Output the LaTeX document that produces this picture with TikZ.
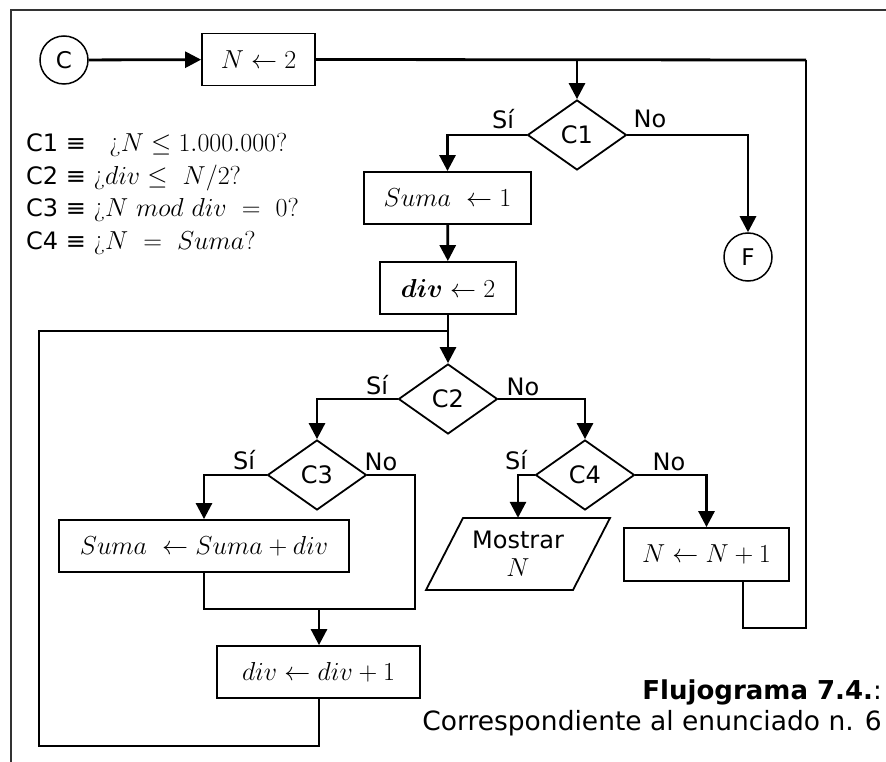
\RequirePackage{fix-cm}
\documentclass[tikz,border=0pt]{standalone}
\usepackage{fontspec}
\usepackage{bm}
\usetikzlibrary{shapes.geometric,arrows.meta}
\newfontfamily\dv{DejaVu Sans}
\tikzset{
  every node/.style={font=\fontsize{26}{30}\selectfont},
  proc/.style={draw, line width=1.8pt, inner sep=0pt},
  dec/.style={draw, line width=1.8pt, diamond, inner sep=0pt, minimum width=99pt, minimum height=70pt, font=\dv\fontsize{24}{28}\selectfont},
  term/.style={draw, line width=1.5pt, circle, minimum size=48pt, inner sep=0pt, font=\dv\fontsize{23}{27}\selectfont},
  para/.style={line width=1.8pt},
  lbl/.style={font=\dv\fontsize{24}{28}\selectfont, inner sep=0pt},
  cond/.style={anchor=west, inner sep=0pt, font=\fontsize{26}{30}\selectfont},
  conn/.style={line width=2.8pt},
  arr/.style={conn, -{Triangle[length=16pt,width=16pt]}},
  frame/.style={line width=2pt, draw=black!80}
}
\begin{document}
\begin{tikzpicture}[x=1pt,y=-1pt]
\useasboundingbox (0,0) rectangle (886,762);
% frame
\draw[frame] (11,762) -- (11,10) -- (886,10);

% nodes
\node[term] (C) at (64,60) {C};
\node[proc, minimum width=113pt, minimum height=52pt] (N2) at (258.5,59.5) {$N \leftarrow 2$};
\node[dec] (C1) at (577,135) {C1};
\node[term] (F) at (748,257) {F};
\node[proc, minimum width=167pt, minimum height=52pt] (S1) at (447.5,198) {$Suma\ \leftarrow 1$};
\node[proc, minimum width=136pt, minimum height=52pt] (D2) at (448,288) {$\bm{div} \leftarrow 2$};
\node[dec] (C2) at (448,399) {C2};
\node[dec] (C3) at (317,475) {C3};
\node[dec] (C4) at (585,475) {C4};
\node[proc, minimum width=290pt, minimum height=52pt] (SS) at (204,546) {$Suma\ \leftarrow Suma + div$};
\node[proc, minimum width=203pt, minimum height=52pt] (DD) at (318.5,672) {$div \leftarrow div + 1$};
\node[proc, minimum width=165pt, minimum height=53pt] (NN) at (706.5,554.5) {$N \leftarrow N + 1$};
\node[minimum width=110pt, minimum height=72pt, inner sep=0pt, align=center] (M) at (518,554) {{\dv\fontsize{24}{30}\selectfont Mostrar}\\[-2pt]$N$};
\draw[para] (463,518) -- (610,518) -- (573,590) -- (426,590) -- cycle;

% labels
\node[lbl] (l1s) at (503,119) {Sí};
\node[lbl] (l1n) at (650,119) {No};
\node[lbl] (l2s) at (377,385) {Sí};
\node[lbl] (l2n) at (523,387) {No};
\node[lbl] (l3s) at (244,460) {Sí};
\node[lbl] (l3n) at (381,462) {No};
\node[lbl] (l4s) at (516,460) {Sí};
\node[lbl] (l4n) at (669,462) {No};

% conditions
\node[cond] (k1) at (26,145) {{\dv\fontsize{24}{28}\selectfont C1 ≡}\ \ \ ¿$N \leq 1.000.000$?};
\node[cond] (k2) at (26,178) {{\dv\fontsize{24}{28}\selectfont C2 ≡} ¿$div \leq\ N/2$?};
\node[cond] (k3) at (26,210) {{\dv\fontsize{24}{28}\selectfont C3 ≡} ¿$N\ mod\ div\ =\ 0$?};
\node[cond] (k4) at (26,243) {{\dv\fontsize{24}{28}\selectfont C4 ≡} ¿$N\ =\ Suma$?};

% caption
\node[anchor=east, inner sep=0pt, font=\dv\bfseries\fontsize{26}{30}\selectfont] (cap1) at (882,692) {Flujograma 7.4.\textmd{:}};
\node[anchor=east, inner sep=0pt, font=\dv\fontsize{26.5}{30}\selectfont] (cap2) at (882,723) {Correspondiente al enunciado n. 6};

% coordinates
\coordinate (top) at (577,60);
\coordinate (rt) at (806,60);
\coordinate (rb) at (806,628);
\coordinate (nb) at (743,628);
\coordinate (join) at (448,331);
\coordinate (ll) at (39,331);
\coordinate (lb) at (39,746);
\coordinate (db) at (319,746);
\coordinate (m3) at (319,609);

% connectors
\draw[arr] (C) -- (N2);
\draw[conn] (N2.east) -- (rt);
\draw[arr] (top) -- (C1.north);
\draw[arr] (C1.west) -| (S1.north);
\draw[arr] (C1.east) -| (F.north);
\draw[arr] (S1) -- (D2);
\draw[arr] (D2.south) -- (C2.north);
\draw[arr] (C2.west) -| (C3.north);
\draw[arr] (C2.east) -| (C4.north);
\draw[arr] (C3.west) -| (SS.north -| 204,0);
\draw[conn] (C3.east) -| (415,609) -- (204,609) -- (SS.south -| 204,0);
\draw[arr] (m3) -- (DD.north -| m3);
\draw[conn] (DD.south -| db) -- (db) -- (lb) -- (ll) -- (join);
\draw[arr] (C4.west) -| (M.north);
\draw[arr] (C4.east) -| (NN.north);
\draw[conn] (NN.south -| nb) -- (nb) -- (rb) -- (rt);
\end{tikzpicture}
\end{document}
